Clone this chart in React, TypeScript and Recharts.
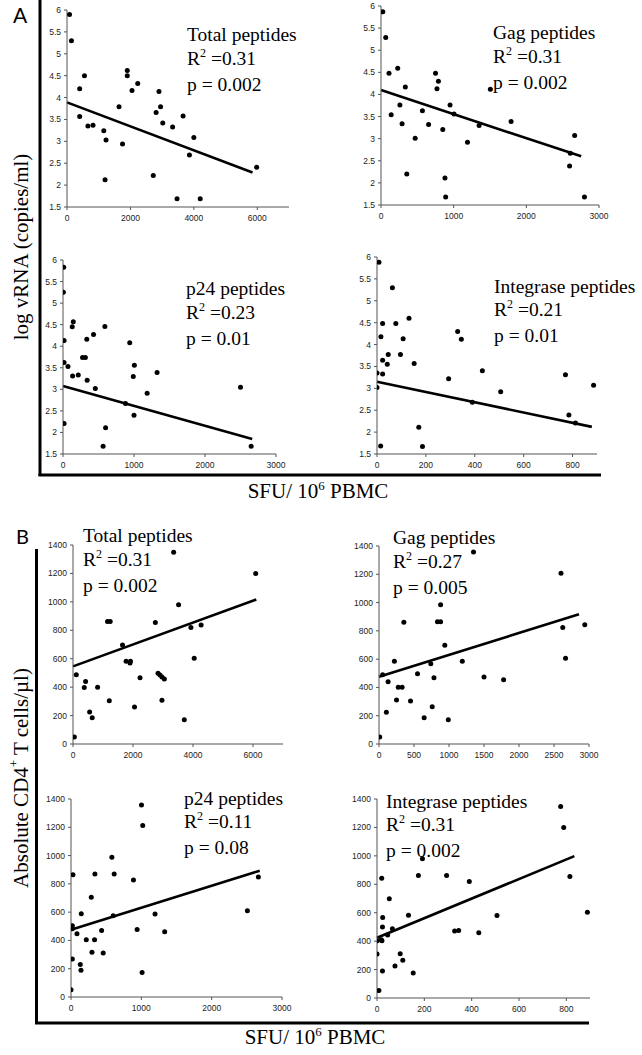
import React from 'react';
import { ScatterChart, Scatter, XAxis, YAxis, ReferenceLine } from 'recharts';

// ---------- Data (SFU / 10^6 PBMC vs outcome) ----------
const aTotalSfu = [80, 140, 550, 400, 400, 660, 820, 1160, 1230, 1200, 1640, 1750, 1900, 1900, 2050, 2230, 2810, 2900, 2950, 3020, 2720, 3330, 3470, 3660, 4000, 3860, 4200, 5980];
const aTotalVrna = [5.9, 5.3, 4.5, 4.2, 3.57, 3.35, 3.37, 3.24, 3.03, 2.12, 3.79, 2.94, 4.62, 4.5, 4.16, 4.32, 3.66, 4.14, 3.79, 3.42, 2.22, 3.33, 1.69, 3.58, 3.09, 2.69, 1.69, 2.41];
const aTotalFit = [[0, 3.89], [5850, 2.29]];

const aGagSfu = [25, 65, 110, 230, 140, 260, 335, 290, 355, 470, 570, 655, 750, 790, 770, 850, 950, 1005, 880, 890, 1190, 1350, 1505, 1790, 2595, 2605, 2665, 2800];
const aGagVrna = [5.87, 5.29, 4.48, 4.59, 3.54, 3.76, 4.17, 3.34, 2.2, 3.01, 3.63, 3.32, 4.48, 4.3, 4.13, 3.21, 3.76, 3.56, 2.11, 1.68, 2.92, 3.3, 4.12, 3.39, 2.38, 2.67, 3.07, 1.68];
const aGagFit = [[0, 4.1], [2755, 2.6]];

const aP24Sfu = [10, 5, 15, 15, 15, 70, 130, 145, 135, 215, 275, 315, 335, 340, 430, 455, 590, 600, 565, 940, 1005, 990, 880, 1000, 1185, 1325, 2500, 2650];
const aP24Vrna = [5.83, 5.25, 4.13, 3.62, 2.21, 3.53, 4.45, 4.57, 3.31, 3.33, 3.74, 3.74, 4.16, 3.21, 4.27, 3.02, 4.46, 2.11, 1.68, 4.08, 3.56, 3.3, 2.67, 2.4, 2.91, 3.39, 3.05, 1.68];
const aP24Fit = [[0, 3.08], [2665, 1.85]];

const aIntSfu = [8, 0, 0, 15, 16, 23, 23, 23, 42, 46, 63, 77, 96, 107, 131, 152, 171, 186, 293, 330, 345, 390, 431, 506, 771, 785, 812, 886];
const aIntVrna = [5.88, 3.35, 3.02, 1.68, 4.18, 4.48, 3.64, 3.33, 3.55, 3.77, 5.3, 4.48, 3.77, 4.13, 4.6, 3.57, 2.11, 1.67, 3.22, 4.3, 4.12, 2.68, 3.4, 2.92, 3.31, 2.39, 2.21, 3.07];
const aIntFit = [[0, 3.15], [879, 2.12]];

const bTotalSfu = [45, 110, 375, 420, 555, 640, 820, 1150, 1240, 1210, 1650, 1770, 1900, 1915, 2050, 2235, 2745, 2835, 2900, 2965, 3045, 2965, 3355, 3520, 3710, 3930, 4040, 4270, 6090];
const bTotalCd4 = [50, 487, 398, 440, 225, 185, 400, 862, 862, 304, 696, 583, 569, 583, 260, 466, 855, 497, 485, 471, 457, 307, 1349, 979, 171, 820, 604, 838, 1199];
const bTotalFit = [[0, 546], [6110, 1016]];

const bGagSfu = [10, 52, 105, 130, 220, 250, 275, 330, 355, 450, 550, 645, 740, 760, 785, 835, 880, 880, 940, 990, 1190, 1350, 1500, 1780, 2600, 2625, 2665, 2940];
const bGagCd4 = [49, 490, 224, 441, 585, 311, 401, 401, 860, 304, 497, 186, 568, 264, 469, 865, 865, 985, 698, 172, 585, 1358, 474, 455, 1207, 823, 606, 844];
const bGagFit = [[0, 476], [2857, 917]];

const bP24Sfu = [0, 19, 28, 19, 19, 85, 132, 142, 146, 217, 288, 298, 335, 340, 435, 458, 581, 600, 614, 888, 940, 1002, 1020, 1011, 1195, 1332, 2508, 2664];
const bP24Cd4 = [52, 269, 865, 504, 483, 448, 229, 189, 589, 405, 705, 316, 405, 870, 471, 311, 988, 575, 870, 827, 478, 1358, 1212, 174, 587, 462, 610, 849];
const bP24Fit = [[0, 476], [2683, 893]];

const bIntSfu = [1, 0, 8, 18, 21, 23, 20, 24, 23, 45, 52, 65, 76, 98, 109, 133, 153, 175, 192, 294, 328, 345, 390, 430, 507, 776, 789, 815, 889];
const bIntCd4 = [403, 309, 52, 410, 403, 190, 843, 567, 499, 443, 698, 487, 225, 311, 265, 583, 176, 862, 979, 862, 471, 475, 820, 459, 581, 1347, 1199, 855, 604];
const bIntFit = [[0, 424], [834, 998]];

// ---------- Tick labels ----------
const vrnaTicks = [1.5, 2, 2.5, 3, 3.5, 4, 4.5, 5, 5.5, 6];
const cd4Ticks = [0, 200, 400, 600, 800, 1000, 1200, 1400];
const ticks6000 = [0, 2000, 4000, 6000];
const ticks3000 = [0, 1000, 2000, 3000];
const ticks3000b = [0, 500, 1000, 1500, 2000, 2500, 3000];
const ticks800 = [0, 200, 400, 600, 800];

const titles = ['Total peptides', 'Gag peptides', 'p24 peptides', 'Integrase peptides'];
const aR2 = ['0.31', '0.31', '0.23', '0.21'];
const aP = ['0.002', '0.002', '0.01', '0.01'];
const bR2 = ['0.31', '0.27', '0.11', '0.31'];
const bP = ['0.002', '0.005', '0.08', '0.002'];

const zip = (xs: number[], ys: number[]) => xs.map((x, i) => ({ x, y: ys[i] }));

type PanelCfg = {
  xs: number[]; ys: number[]; fit: number[][];
  xDomain: [number, number]; xTicks: number[];
  yDomain: [number, number]; yTicks: number[];
  left: number; right: number; top: number; bottom: number;
  title: string; r2: string; p: string;
  tx: number; ty: number; lh: number;
};

const panels: PanelCfg[] = [
  { xs: aTotalSfu, ys: aTotalVrna, fit: aTotalFit, xDomain: [0, 7000], xTicks: ticks6000, yDomain: [1.5, 6], yTicks: vrnaTicks,
    left: 67, right: 289, top: 10, bottom: 207, title: titles[0], r2: aR2[0], p: aP[0], tx: 187, ty: 23, lh: 24 },
  { xs: aGagSfu, ys: aGagVrna, fit: aGagFit, xDomain: [0, 3000], xTicks: ticks3000, yDomain: [1.5, 6], yTicks: vrnaTicks,
    left: 381, right: 599, top: 6, bottom: 205, title: titles[1], r2: aR2[1], p: aP[1], tx: 493, ty: 21, lh: 24 },
  { xs: aP24Sfu, ys: aP24Vrna, fit: aP24Fit, xDomain: [0, 3000], xTicks: ticks3000, yDomain: [1.5, 6], yTicks: vrnaTicks,
    left: 63, right: 276, top: 260, bottom: 454, title: titles[2], r2: aR2[2], p: aP[2], tx: 186, ty: 277, lh: 24 },
  { xs: aIntSfu, ys: aIntVrna, fit: aIntFit, xDomain: [0, 900], xTicks: ticks800, yDomain: [1.5, 6], yTicks: vrnaTicks,
    left: 377, right: 597, top: 257, bottom: 454, title: titles[3], r2: aR2[3], p: aP[3], tx: 494, ty: 275, lh: 23 },
  { xs: bTotalSfu, ys: bTotalCd4, fit: bTotalFit, xDomain: [0, 7000], xTicks: ticks6000, yDomain: [0, 1400], yTicks: cd4Ticks,
    left: 73, right: 283, top: 545, bottom: 744, title: titles[0], r2: bR2[0], p: bP[0], tx: 83, ty: 524, lh: 24 },
  { xs: bGagSfu, ys: bGagCd4, fit: bGagFit, xDomain: [0, 3000], xTicks: ticks3000b, yDomain: [0, 1400], yTicks: cd4Ticks,
    left: 379, right: 589, top: 546, bottom: 744, title: titles[1], r2: bR2[1], p: bP[1], tx: 393, ty: 526, lh: 24 },
  { xs: bP24Sfu, ys: bP24Cd4, fit: bP24Fit, xDomain: [0, 3000], xTicks: ticks3000, yDomain: [0, 1400], yTicks: cd4Ticks,
    left: 71, right: 282, top: 799, bottom: 997, title: titles[2], r2: bR2[2], p: bP[2], tx: 184, ty: 787, lh: 23 },
  { xs: bIntSfu, ys: bIntCd4, fit: bIntFit, xDomain: [0, 900], xTicks: ticks800, yDomain: [0, 1400], yTicks: cd4Ticks,
    left: 377, right: 590, top: 799, bottom: 998, title: titles[3], r2: bR2[3], p: bP[3], tx: 386, ty: 790, lh: 23 },
];

const YW = 34;
const XH = 24;
const MT = 8;
const MR = 14;
const axisColor = '#555';
const tickStyle = { fontSize: 8.5, fill: '#222', fontFamily: '"Liberation Sans", Arial, sans-serif' };

const Dot = (props: any) => <circle cx={props.cx} cy={props.cy} r={2.5} fill="#000" />;

function Panel({ p }: { p: PanelCfg }) {
  const plotW = p.right - p.left;
  const plotH = p.bottom - p.top;
  const width = plotW + YW + MR;
  const height = plotH + MT + XH;
  return (
    <>
      <div style={{ position: 'absolute', left: p.left - YW, top: p.top - MT }}>
        <ScatterChart width={width} height={height} margin={{ top: MT, right: MR, left: 0, bottom: 0 }}>
          <XAxis type="number" dataKey="x" domain={p.xDomain} ticks={p.xTicks} height={XH}
            axisLine={{ stroke: axisColor }} tickLine={{ stroke: axisColor }} tickSize={3} tickMargin={5}
            tick={tickStyle} interval={0} allowDataOverflow />
          <YAxis type="number" dataKey="y" domain={p.yDomain} ticks={p.yTicks} width={YW}
            axisLine={{ stroke: axisColor }} tickLine={{ stroke: axisColor }} tickSize={3} tickMargin={3}
            tick={tickStyle} interval={0} allowDataOverflow />
          <ReferenceLine segment={[{ x: p.fit[0][0], y: p.fit[0][1] }, { x: p.fit[1][0], y: p.fit[1][1] }]}
            stroke="#000" strokeWidth={2.6} />
          <Scatter data={zip(p.xs, p.ys)} shape={Dot} isAnimationActive={false} />
        </ScatterChart>
      </div>
      <div style={{ position: 'absolute', left: p.tx, top: p.ty, fontFamily: '"Liberation Serif", "Times New Roman", serif',
        fontSize: 19.5, lineHeight: `${p.lh}px`, color: '#000', whiteSpace: 'nowrap' }}>
        <div>{p.title}</div>
        <div>R<sup style={{ fontSize: 12, verticalAlign: 'baseline', position: 'relative', top: -8 }}>2</sup> ={p.r2}</div>
        <div>p = {p.p}</div>
      </div>
    </>
  );
}

export default function App() {
  const serif = '"Liberation Serif", "Times New Roman", serif';
  return (
    <div style={{ position: 'absolute', left: 0, top: 0, width: 642, height: 1055, background: '#fff', overflow: 'hidden' }}>
      <svg width={642} height={1055} style={{ position: 'absolute', left: 0, top: 0 }}>
        <line x1={40} y1={0} x2={40} y2={476} stroke="#000" strokeWidth={3} />
        <line x1={38.5} y1={475} x2={601} y2={475} stroke="#000" strokeWidth={3} />
        <line x1={36.5} y1={549} x2={36.5} y2={1024} stroke="#000" strokeWidth={3} />
        <line x1={35} y1={1023} x2={589} y2={1023} stroke="#000" strokeWidth={3} />
        <text x={13} y={23} fontFamily="Lato, 'Open Sans', sans-serif" fontSize={21} fill="#000">A</text>
        <text x={16} y={544} fontFamily="Lato, 'Open Sans', sans-serif" fontSize={20} fill="#000">B</text>
        <text transform="translate(21,247) rotate(-90)" textAnchor="middle" dominantBaseline="central"
          fontFamily={serif} fontSize={21} fill="#000">log vRNA (copies/ml)</text>
        <text transform="translate(21,778) rotate(-90)" textAnchor="middle" dominantBaseline="central"
          fontFamily={serif} fontSize={21} fill="#000">Absolute CD4<tspan dy={-8} fontSize={13}>+</tspan><tspan dy={8}> T cells/µl)</tspan></text>
        <text x={318} y={498} textAnchor="middle" fontFamily={serif} fontSize={21} fill="#000">SFU/ 10<tspan dy={-8} fontSize={13}>6</tspan><tspan dy={8}> PBMC</tspan></text>
        <text x={315} y={1044} textAnchor="middle" fontFamily={serif} fontSize={21} fill="#000">SFU/ 10<tspan dy={-8} fontSize={13}>6</tspan><tspan dy={8}> PBMC</tspan></text>
      </svg>
      {panels.map((p, i) => <Panel key={i} p={p} />)}
    </div>
  );
}
